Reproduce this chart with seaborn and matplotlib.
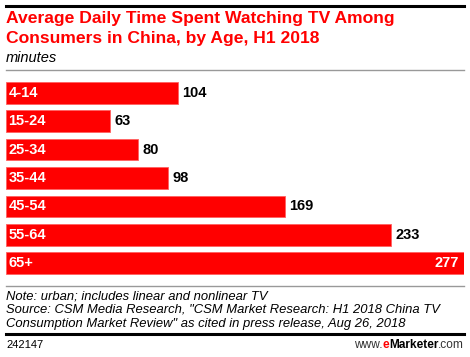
import matplotlib
matplotlib.use('Agg')
import matplotlib.pyplot as plt
import seaborn as sb
from matplotlib.lines import Line2D

ages = ['4-14', '15-24', '25-34', '35-44', '45-54', '55-64', '65+']
minutes = [104, 63, 80, 98, 169, 233, 277]

W, H = 470, 357
fig = plt.figure(figsize=(W / 100, H / 100), dpi=100)
plt.rcParams['font.family'] = ['Liberation Sans', 'DejaVu Sans']

def fx(px):
    return px / W

def fy(py):
    return 1 - py / H

# bar area: 6..464 px wide, 78.5..277.5 px tall
ax = fig.add_axes([fx(6), fy(277.5), fx(464) - fx(6), fy(78.5) - fy(277.5)])
sb.barplot(x=minutes, y=ages, orient='h', color='#ff0000', saturation=1,
           width=0.76, ax=ax, edgecolor='#ff6060', linewidth=0.6)
ax.set_xlim(0, max(minutes))
ax.set_ylim(6.5, -0.5)
ax.axis('off')

for i, (a, v) in enumerate(zip(ages, minutes)):
    ax.text(1.5, i, a, color='white', fontsize=10.5, fontweight='bold',
            va='center', ha='left')
    if v == max(minutes):
        ax.text(v - 3, i, str(v), color='white', fontsize=10.5,
                fontweight='bold', va='center', ha='right')
    else:
        ax.text(v + 2.5, i, str(v), color='black', fontsize=10.5,
                fontweight='bold', va='center', ha='left')

# rules
fig.add_artist(Line2D([fx(6), fx(464)], [fy(6), fy(6)], color='black', lw=2.2))
fig.add_artist(Line2D([fx(6), fx(464)], [fy(70), fy(70)], color='#999999', lw=1))
fig.add_artist(Line2D([fx(6), fx(464)], [fy(286), fy(286)], color='#999999', lw=1))
fig.add_artist(Line2D([fx(6), fx(464)], [fy(334), fy(334)], color='black', lw=2.2))

fig.text(fx(6), fy(18), 'Average Daily Time Spent Watching TV Among',
         color='#ff0000', fontsize=12.6, fontweight='bold', va='center')
fig.text(fx(6), fy(38), 'Consumers in China, by Age, H1 2018',
         color='#ff0000', fontsize=12.6, fontweight='bold', va='center')
fig.text(fx(6), fy(58), 'minutes', color='black', fontsize=10.5,
         style='italic', va='center')

notes = ['Note: urban; includes linear and nonlinear TV',
         'Source: CSM Media Research, "CSM Market Research: H1 2018 China TV',
         'Consumption Market Review" as cited in press release, Aug 26, 2018']
for k, line in enumerate(notes):
    fig.text(fx(6), fy(296.5 + k * 13.5), line, color='black', fontsize=9.4,
             style='italic', va='center')

fig.text(fx(6), fy(345), '242147', color='black', fontsize=8, va='center')
# compose the logo piecewise from the right
r = fig.canvas.get_renderer()
x = fx(464)
for s, c, w in [('.com', '#333333', 'normal'), ('Marketer', 'black', 'bold'),
                ('e', '#ff0000', 'bold'), ('www.', '#333333', 'normal')]:
    tt = fig.text(x, fy(345), s, color=c, fontsize=8.6, fontweight=w,
                  va='center', ha='right')
    bb = tt.get_window_extent(renderer=r)
    x -= bb.width / fig.bbox.width

fig.savefig('out.png', dpi=100)
